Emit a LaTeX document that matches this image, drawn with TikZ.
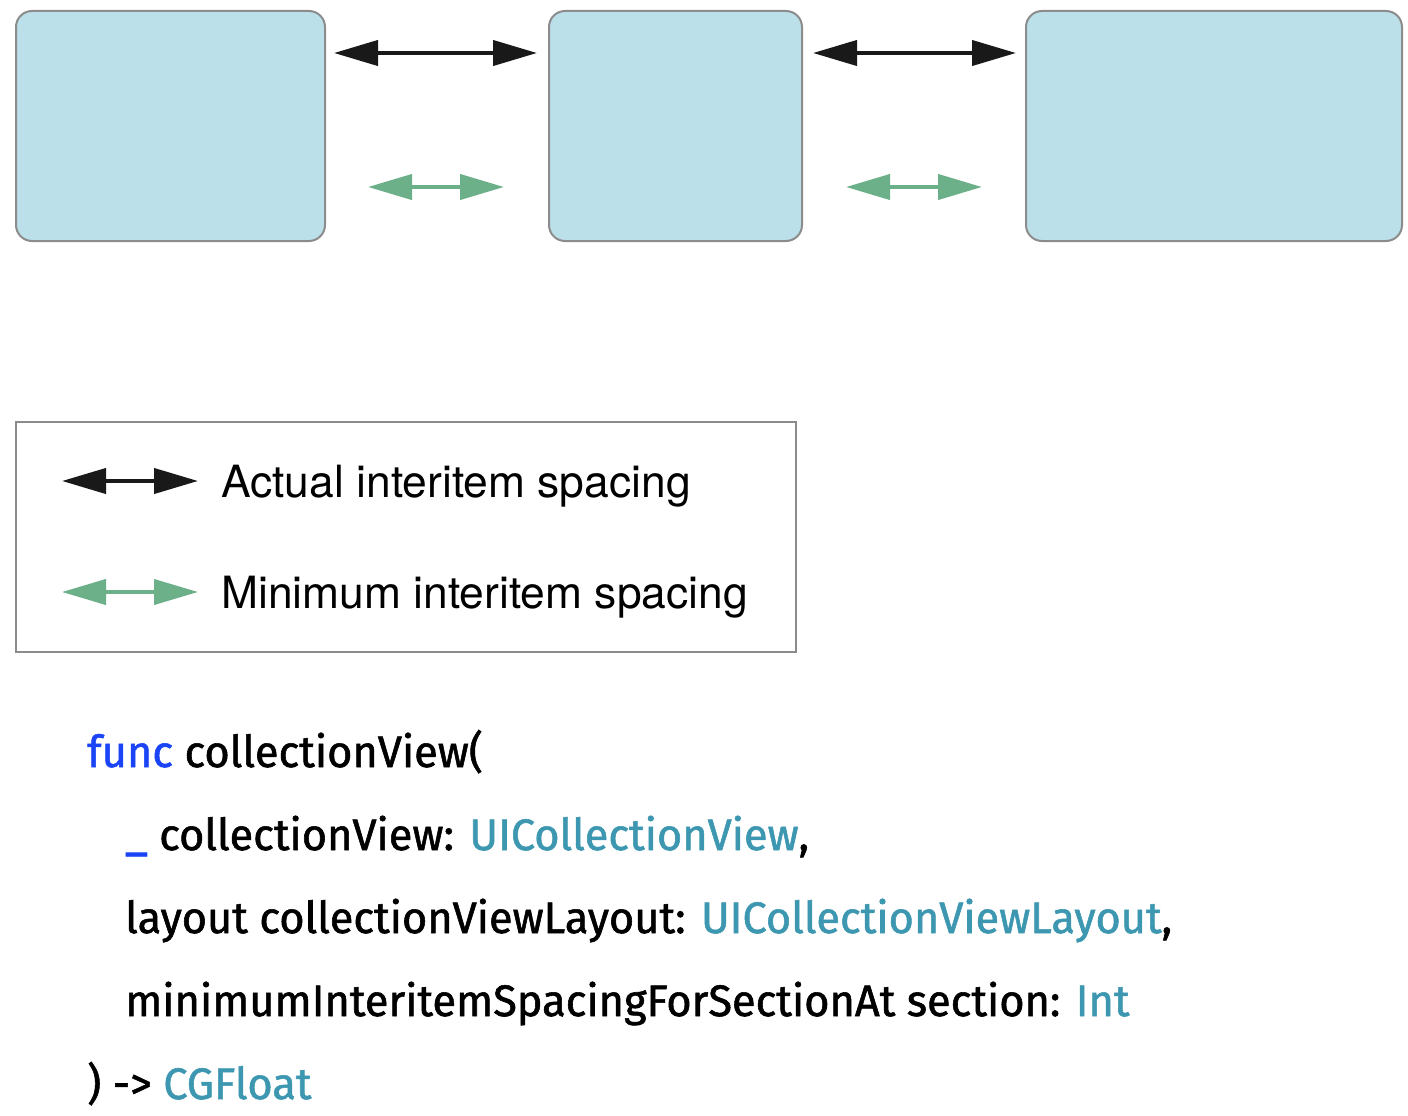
\documentclass[tikz,border=0pt]{standalone}
\usepackage{fontspec}
\setmainfont{TeX Gyre Heros}
\newfontfamily\codefont[FakeStretch=0.985,FakeBold=1.3]{Fira Sans}
\usetikzlibrary{arrows.meta,positioning}
\definecolor{cellblue}{HTML}{BCE0EA}
\definecolor{cellgray}{HTML}{8C8C8C}
\definecolor{mingreen}{HTML}{6BB089}
\definecolor{kwblue}{HTML}{1A44F5}
\definecolor{typeteal}{HTML}{3D97B0}
\begin{document}
\begin{tikzpicture}[x=1pt,y=-1pt,
  cell/.style={draw=cellgray,line width=2pt,fill=cellblue,rounded corners=16pt,minimum height=230pt,inner sep=0pt,anchor=north west},
  actual/.style={{Triangle[length=44pt,width=25pt]}-{Triangle[length=44pt,width=25pt]},line width=4pt,black!90},
  minimal/.style={{Triangle[length=44pt,width=25pt]}-{Triangle[length=44pt,width=25pt]},line width=4pt,mingreen},
  legendtext/.style={anchor=base west,inner sep=0pt,font=\fontsize{44.4}{52}\selectfont},
  code/.style={anchor=base west,inner sep=0pt,font=\codefont\fontsize{44}{52}\selectfont}]
\useasboundingbox (0,0) rectangle (1408,1116);
% cells in a row
\node[cell,minimum width=309pt] (item1) at (15,10) {};
\node[cell,minimum width=253pt] (item2) at (548,10) {};
\node[cell,minimum width=376pt] (item3) at (1025,10) {};
\draw[actual,shorten <=8pt,shorten >=11pt] ([yshift=73pt]item1.east) -- ([yshift=73pt]item2.west);
\draw[actual,shorten <=10pt,shorten >=9pt] ([yshift=73pt]item2.east) -- ([yshift=73pt]item3.west);
\draw[minimal,shorten <=42pt,shorten >=44pt] ([yshift=-61pt]item1.east) -- ([yshift=-61pt]item2.west);
\draw[minimal,shorten <=43pt,shorten >=43pt] ([yshift=-61pt]item2.east) -- ([yshift=-61pt]item3.west);
% legend
\node[draw=cellgray,line width=2pt,minimum width=780pt,minimum height=230pt,inner sep=0pt,anchor=north west] (legend) at (15,421) {};
\coordinate (actualL) at (62,481);
\coordinate (actualR) at (198,481);
\coordinate (minL) at (62,592);
\coordinate (minR) at (198,592);
\draw[actual] (actualL) -- (actualR);
\draw[minimal] (minL) -- (minR);
\node[legendtext] (actuallbl) at (221,497) {Actual interitem spacing};
\node[legendtext] (minlbl) at (221,608) {Minimum interitem spacing};
% signature
\node[code] (sig1) at (87,767) {\textcolor{kwblue}{func} collectionView(};
\node[code] (sig2) at (125,850) {\textcolor{kwblue}{\_} collectionView: \textcolor{typeteal}{UICollectionView},};
\node[code] (sig3) at (125,933) {layout collectionViewLayout: \textcolor{typeteal}{UICollectionViewLayout},};
\node[code] (sig4) at (125,1016) {minimumInteritemSpacingForSectionAt section: \textcolor{typeteal}{Int}};
\node[code] (sig5) at (87,1099) {) -> \textcolor{typeteal}{CGFloat}};
\end{tikzpicture}
\end{document}
